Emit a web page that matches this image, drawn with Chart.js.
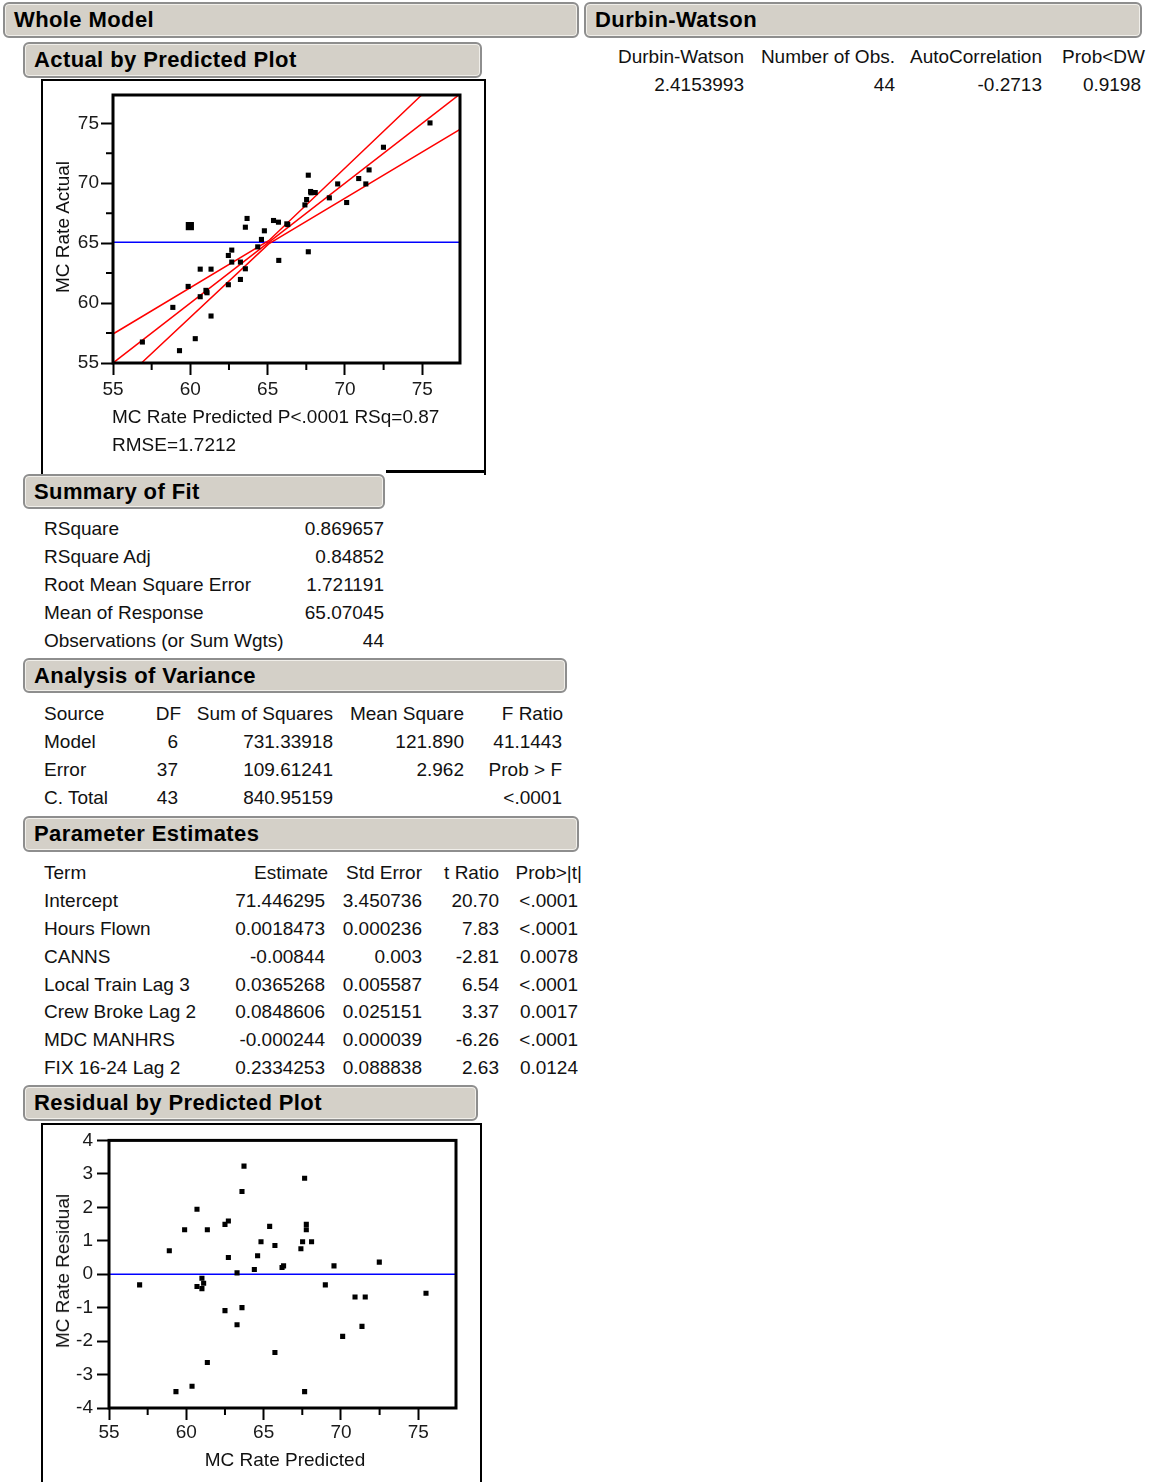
<!DOCTYPE html>
<html>
<head>
<meta charset="utf-8">
<script src="https://cdn.jsdelivr.net/npm/chart.js@4.4.1/dist/chart.umd.min.js"></script>
<style>
body{margin:0;background:#fff;font-family:"Liberation Sans",Arial,sans-serif;color:#111;}
#page{position:relative;width:1151px;height:1482px;overflow:hidden;}
.hdr{position:absolute;box-sizing:border-box;background:#d4d0c8;border:2px solid #8e8e8e;border-radius:6px;
  box-shadow:inset 0 0 0 1px #f1efea;font-weight:bold;font-size:22px;letter-spacing:0.4px;
  display:flex;align-items:center;padding-left:9px;color:#000;}
.t{position:absolute;font-size:19px;line-height:24px;height:24px;white-space:nowrap;}
.r{transform:translateX(-100%);}
.frame{position:absolute;box-sizing:border-box;border:2px solid #000;}
.vt{position:absolute;font-size:19px;white-space:nowrap;transform:translate(-50%,-50%) rotate(-90deg);}
canvas{position:absolute;}
</style>
</head>
<body>
<div id="page">
  <div class="hdr" style="left:3px;top:2px;width:576px;height:36px;">Whole Model</div>
  <div class="hdr" style="left:584px;top:2px;width:558px;height:36px;">Durbin-Watson</div>
  <div class="hdr" style="left:23px;top:42px;width:459px;height:36px;">Actual by Predicted Plot</div>

  <div class="frame" style="left:41px;top:79px;width:445px;height:396px;border-bottom:none;"></div>
  <div style="position:absolute;left:386px;top:470px;width:100px;height:3px;background:#000;"></div>
  <canvas id="c1" width="441" height="390" style="left:43px;top:81px;"></canvas>

  <div class="hdr" style="left:23px;top:474px;width:362px;height:35px;">Summary of Fit</div>
  <div class="hdr" style="left:23px;top:658px;width:544px;height:35px;">Analysis of Variance</div>
  <div class="hdr" style="left:23px;top:816px;width:556px;height:36px;">Parameter Estimates</div>
  <div class="hdr" style="left:23px;top:1085px;width:455px;height:36px;">Residual by Predicted Plot</div>

  <div class="frame" style="left:41px;top:1123px;width:441px;height:420px;"></div>
  <canvas id="c2" width="437" height="357" style="left:43px;top:1125px;"></canvas>
</div>

<script>
// ---------------- data ----------------
// Actual by Predicted
var predA = [56.90, 58.87, 59.30, 59.86, 60.32, 60.64, 60.64, 61.01, 61.08, 61.05, 61.34, 61.34,
  62.46, 62.46, 62.68, 62.68, 63.24, 63.24, 63.56, 63.67, 63.56, 64.36, 64.60, 64.79, 65.38, 65.70,
  65.72, 66.24, 66.30, 67.41, 67.52, 67.63, 67.63, 67.78, 67.80, 68.08, 68.99, 69.53, 70.11, 70.89,
  71.35, 71.56, 72.49, 75.50];
var actualA = [56.75, 59.64, 56.03, 61.39, 57.03, 62.83, 60.53, 61.06, 60.86, 60.95, 62.83, 58.92,
  61.53, 63.97, 64.42, 63.42, 63.42, 61.97, 66.33, 67.06, 62.86, 64.69, 65.31, 66.03, 66.89, 66.75,
  63.56, 66.61, 66.55, 68.19, 68.64, 70.67, 64.28, 69.31, 69.20, 69.22, 68.78, 69.94, 68.39, 70.39,
  69.94, 71.11, 73.00, 75.03];
var bigPred = [59.97];
var bigActual = [66.42];
var meanResponse = 65.07045;
// fit line and confidence curves (x, y pairs)
var fitX = [55, 77.44];
var fitY = [55, 77.44];
var upperX = [55, 65.07, 74.96];
var upperY = [57.42, 65.2, 77.36];
var lowerX = [56.84, 65.07, 77.44];
var lowerY = [55, 64.94, 74.5];

// Residual by Predicted
var predR = [56.98, 58.90, 59.33, 59.89, 60.69, 60.37, 60.69, 61.01, 61.12, 61.01, 61.36, 61.36,
  62.50, 62.72, 62.72, 62.50, 63.28, 63.28, 63.60, 63.73, 63.60, 64.40, 64.61, 64.83, 65.39, 65.73,
  65.73, 66.19, 66.29, 67.41, 67.52, 67.65, 67.65, 67.76, 67.76, 68.10, 68.99, 69.55, 70.11, 70.91,
  71.36, 71.57, 72.48, 75.50];
var resid = [-0.32, 0.70, -3.51, 1.33, 1.94, -3.35, -0.37, -0.12, -0.27, -0.43, 1.33, -2.64,
  1.49, 1.59, 0.50, -1.09, 0.04, -1.51, 2.47, 3.23, -1.00, 0.14, 0.55, 0.97, 1.43, 0.86,
  -2.34, 0.20, 0.25, 0.76, 0.97, 2.87, -3.51, 1.49, 1.33, 0.97, -0.32, 0.25, -1.86, -0.68,
  -1.56, -0.68, 0.36, -0.57];

// report tables
var dwHeads = ['Durbin-Watson', 'Number of Obs.', 'AutoCorrelation', 'Prob<DW'];
var dwValues = ['2.4153993', '44', '-0.2713', '0.9198'];
var fitLabels = ['RSquare', 'RSquare Adj', 'Root Mean Square Error', 'Mean of Response', 'Observations (or Sum Wgts)'];
var fitValues = ['0.869657', '0.84852', '1.721191', '65.07045', '44'];
var anovaHeads = ['Source', 'DF', 'Sum of Squares', 'Mean Square', 'F Ratio'];
var anovaRows = [
  ['Model', '6', '731.33918', '121.890', '41.1443'],
  ['Error', '37', '109.61241', '2.962', 'Prob > F'],
  ['C. Total', '43', '840.95159', '', '<.0001']
];
var paramHeads = ['Term', 'Estimate', 'Std Error', 't Ratio', 'Prob>|t|'];
var paramRows = [
  ['Intercept', '71.446295', '3.450736', '20.70', '<.0001'],
  ['Hours Flown', '0.0018473', '0.000236', '7.83', '<.0001'],
  ['CANNS', '-0.00844', '0.003', '-2.81', '0.0078'],
  ['Local Train Lag 3', '0.0365268', '0.005587', '6.54', '<.0001'],
  ['Crew Broke Lag 2', '0.0848606', '0.025151', '3.37', '0.0017'],
  ['MDC MANHRS', '-0.000244', '0.000039', '-6.26', '<.0001'],
  ['FIX 16-24 Lag 2', '0.2334253', '0.088838', '2.63', '0.0124']
];

// ---------------- text helpers ----------------
var page = document.getElementById('page');
function txt(s, x, yc, right) {
  var d = document.createElement('div');
  d.className = 't' + (right ? ' r' : '');
  d.style.left = x + 'px';
  d.style.top = (yc - 12) + 'px';
  d.textContent = s;
  page.appendChild(d);
}
function vtxt(s, x, yc) {
  var d = document.createElement('div');
  d.className = 'vt';
  d.style.left = x + 'px';
  d.style.top = yc + 'px';
  d.textContent = s;
  page.appendChild(d);
}

// Durbin-Watson
var dwHeadX = [744, 895, 1042, 1145];
var dwValX = [744, 895, 1042, 1141];
dwHeads.forEach(function (h, i) { txt(h, dwHeadX[i], 57, true); });
dwValues.forEach(function (v, i) { txt(v, dwValX[i], 85, true); });

// Summary of Fit
var fitY_ = [529, 557, 585, 613, 641];
fitLabels.forEach(function (l, i) {
  txt(l, 44, fitY_[i], false);
  txt(fitValues[i], 384, fitY_[i], true);
});

// Analysis of Variance
var anovaHeadX = [181, 333, 464, 563];
var anovaValX = [178, 333, 464, 562];
var anovaY = [714, 742, 770, 798];
txt(anovaHeads[0], 44, anovaY[0], false);
anovaHeads.slice(1).forEach(function (h, i) { txt(h, anovaHeadX[i], anovaY[0], true); });
anovaRows.forEach(function (r, j) {
  txt(r[0], 44, anovaY[j + 1], false);
  r.slice(1).forEach(function (v, i) { if (v) txt(v, anovaValX[i], anovaY[j + 1], true); });
});

// Parameter Estimates
var paramHeadX = [328, 422, 499, 582];
var paramValX = [325, 422, 499, 578];
var paramY = [873, 901, 929, 957, 985, 1012, 1040, 1068];
txt(paramHeads[0], 44, paramY[0], false);
paramHeads.slice(1).forEach(function (h, i) { txt(h, paramHeadX[i], paramY[0], true); });
paramRows.forEach(function (r, j) {
  txt(r[0], 44, paramY[j + 1], false);
  r.slice(1).forEach(function (v, i) { txt(v, paramValX[i], paramY[j + 1], true); });
});

// plot captions and axis titles
txt('MC Rate Predicted P<.0001 RSq=0.87', 112, 417, false);
txt('RMSE=1.7212', 112, 445, false);
vtxt('MC Rate Actual', 63, 227);
vtxt('MC Rate Residual', 63, 1271);
var xt = document.createElement('div');
xt.className = 't';
xt.style.left = '285px'; xt.style.top = '1448px'; xt.style.transform = 'translateX(-50%)';
xt.textContent = 'MC Rate Predicted';
page.appendChild(xt);

// ---------------- charts ----------------
function pairs(xs, ys) { return xs.map(function (x, i) { return { x: x, y: ys[i] }; }); }

// minor ticks + heavy frame round the plot area
function framePlugin(minorX, minorY) {
  return {
    id: 'frameTicks',
    afterDraw: function (chart) {
      var ctx = chart.ctx, a = chart.chartArea, sx = chart.scales.x, sy = chart.scales.y;
      ctx.save();
      ctx.strokeStyle = '#000';
      ctx.lineWidth = 2;
      ctx.beginPath();
      minorX.forEach(function (v) {
        var p = sx.getPixelForValue(v);
        ctx.moveTo(p, a.bottom); ctx.lineTo(p, a.bottom + 7);
      });
      minorY.forEach(function (v) {
        var p = sy.getPixelForValue(v);
        ctx.moveTo(a.left, p); ctx.lineTo(a.left - 7, p);
      });
      ctx.stroke();
      ctx.lineWidth = 3;
      ctx.strokeRect(a.left, a.top, a.right - a.left, a.bottom - a.top);
      ctx.restore();
    }
  };
}

function axis(min, max, step, fitSize, isX, pad) {
  return {
    type: 'linear', min: min, max: max,
    border: { display: false },
    grid: { drawOnChartArea: false, tickLength: 12, tickWidth: 2, tickColor: '#000' },
    ticks: {
      stepSize: step, includeBounds: false, color: '#1a1a1a', padding: pad, maxRotation: 0, autoSkip: false,
      font: { size: 19, family: '"Liberation Sans", Arial, sans-serif' }
    },
    afterFit: function (s) { if (isX) s.height = fitSize; else s.width = fitSize; }
  };
}

function lineSet(xs, ys, color) {
  return { data: pairs(xs, ys), showLine: true, borderColor: color, borderWidth: 1.5,
    pointRadius: 0, fill: false, clip: 0 };
}

var base = {
  responsive: false, animation: false,
  plugins: { legend: { display: false }, tooltip: { enabled: false } }
};

new Chart(document.getElementById('c1'), {
  type: 'scatter',
  data: {
    datasets: [
      { data: pairs(predA, actualA), pointStyle: 'rect', pointRadius: 3.6, backgroundColor: '#000', borderWidth: 0 },
      { data: pairs(bigPred, bigActual), pointStyle: 'rect', pointRadius: 5.8, backgroundColor: '#000', borderWidth: 0 },
      lineSet(fitX, fitY, '#ff0000'),
      lineSet(upperX, upperY, '#ff0000'),
      lineSet(lowerX, lowerY, '#ff0000'),
      lineSet([55, 77.44], [meanResponse, meanResponse], '#0000ff')
    ]
  },
  options: Object.assign({}, base, {
    layout: { padding: { left: 0, right: 24, top: 14, bottom: 0 } },
    scales: {
      x: axis(55, 77.44, 5, 108, true, 3),
      y: axis(55, 77.36, 5, 70, false, 2)
    }
  }),
  plugins: [framePlugin([57.5, 62.5, 67.5, 72.5], [57.5, 62.5, 67.5, 72.5])]
});

new Chart(document.getElementById('c2'), {
  type: 'scatter',
  data: {
    datasets: [
      { data: pairs(predR, resid), pointStyle: 'rect', pointRadius: 3.6, backgroundColor: '#000', borderWidth: 0 },
      lineSet([55, 77.44], [0, 0], '#0000ff')
    ]
  },
  options: Object.assign({}, base, {
    layout: { padding: { left: 0, right: 24, top: 12, bottom: 0 } },
    scales: {
      x: axis(55, 77.44, 5, 74, true, 1),
      y: axis(-4, 4, 1, 66, false, 4)
    }
  }),
  plugins: [framePlugin([57.5, 62.5, 67.5, 72.5], [])]
});
</script>
</body>
</html>
